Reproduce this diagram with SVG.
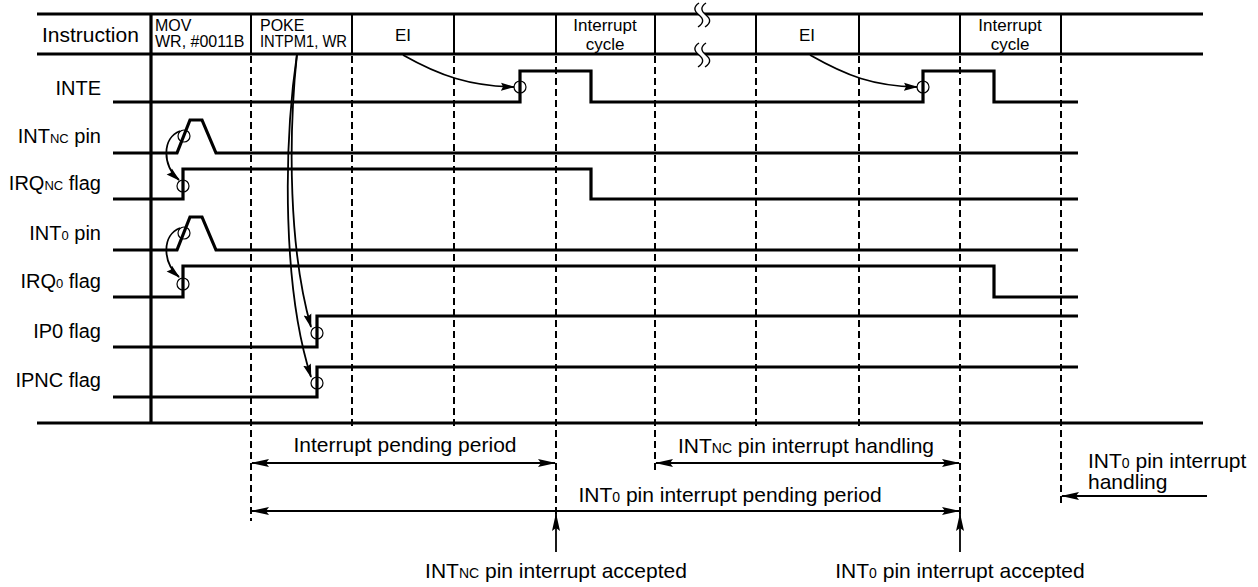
<svg xmlns="http://www.w3.org/2000/svg" width="1258" height="587" viewBox="0 0 1258 587">
<style>
text{font-family:"Liberation Sans",Arial,sans-serif;fill:#000}
.lbl{font-size:20px;text-anchor:end}
.bl{font-size:21px}
.hd{font-size:16px}
.hc{font-size:17px;text-anchor:middle}
.sig{fill:none;stroke:#000;stroke-width:3.2;stroke-linejoin:miter}
.thick{stroke:#000;stroke-width:3.2;fill:none}
.sep{stroke:#000;stroke-width:2;fill:none}
.dash{stroke:#000;stroke-width:2;stroke-dasharray:7,4;fill:none}
.arr{stroke:#000;stroke-width:1.8;fill:none}
.cir{fill:none;stroke:#000;stroke-width:1.2}
.sqf{fill:#fff;stroke:none}
.sq{fill:none;stroke:#000;stroke-width:1.4}
</style>
<defs>
<marker id="ah" markerUnits="userSpaceOnUse" viewBox="0 0 18 10" refX="17" refY="5" markerWidth="18" markerHeight="10" orient="auto-start-reverse">
<path d="M0,1 L18,5 L0,9 L3,5 z" fill="#000"/>
</marker>
<marker id="ahs" markerUnits="userSpaceOnUse" viewBox="0 0 14 10" refX="13" refY="5" markerWidth="14" markerHeight="10" orient="auto">
<path d="M0,1 L14,5 L0,9 L2,5 z" fill="#000"/>
</marker>
<path id="wave" d="M0,0 c-6,4 -5,8 0,12 c5,4 5,8 -1,12"/>
</defs>

<g id="frame">
<line class="thick" x1="37" y1="14" x2="1203" y2="14"/>
<line class="thick" x1="37" y1="54" x2="1203" y2="54"/>
<line class="thick" x1="37" y1="423" x2="1203" y2="423"/>
<line class="thick" x1="151" y1="14" x2="151" y2="423"/>
<g class="sep">
<line x1="251" y1="14" x2="251" y2="54"/>
<line x1="352" y1="14" x2="352" y2="54"/>
<line x1="454" y1="14" x2="454" y2="54"/>
<line x1="556" y1="14" x2="556" y2="54"/>
<line x1="655" y1="14" x2="655" y2="54"/>
<line x1="756" y1="14" x2="756" y2="54"/>
<line x1="859" y1="14" x2="859" y2="54"/>
<line x1="960" y1="14" x2="960" y2="54"/>
<line x1="1061" y1="14" x2="1061" y2="54"/>
</g>
<g class="dash">
<line x1="251" y1="56" x2="251" y2="521"/>
<line x1="352" y1="56" x2="352" y2="429"/>
<line x1="454" y1="56" x2="454" y2="429"/>
<line x1="556" y1="56" x2="556" y2="514"/>
<line x1="655" y1="56" x2="655" y2="474"/>
<line x1="756" y1="56" x2="756" y2="429"/>
<line x1="859" y1="56" x2="859" y2="429"/>
<line x1="960" y1="56" x2="960" y2="514"/>
<line x1="1061" y1="56" x2="1061" y2="504"/>
</g>
<g id="breaks">
<path class="sqf" d="M699,3 c-6,4 -5,8 0,12 c5,4 5,8 -1,12 h7 c6,-4 6,-8 1,-12 c-5,-4 -6,-8 0,-12 z"/>
<use class="sq" href="#wave" x="699" y="3"/>
<use class="sq" href="#wave" x="706" y="3"/>
<path class="sqf" d="M699,43 c-6,4 -5,8 0,12 c5,4 5,8 -1,12 h7 c6,-4 6,-8 1,-12 c-5,-4 -6,-8 0,-12 z"/>
<use class="sq" href="#wave" x="699" y="43"/>
<use class="sq" href="#wave" x="706" y="43"/>
</g>
</g>

<g id="header">
<text class="bl" x="42" y="42">Instruction</text>
<text class="hd" x="155" y="31">MOV</text>
<text class="hd" x="155" y="47">WR, #0011B</text>
<text class="hd" x="260" y="31">POKE</text>
<text class="hd" x="260" y="47" textLength="87" lengthAdjust="spacingAndGlyphs">INTPM1, WR</text>
<text class="hc" x="403" y="41">EI</text>
<text class="hc" x="605" y="31">Interrupt</text>
<text class="hc" x="605" y="50">cycle</text>
<text class="hc" x="807" y="41">EI</text>
<text class="hc" x="1010" y="31">Interrupt</text>
<text class="hc" x="1010" y="50">cycle</text>
</g>

<g id="sig-inte">
<text class="lbl" x="101" y="95">INTE</text>
<path class="sig" d="M113,102 H520 V71 H591 V102 H923 V71 H994 V102 H1078"/>
<circle class="cir" cx="520" cy="87" r="6"/>
<circle class="cir" cx="923" cy="87" r="6"/>
</g>
<g id="sig-intnc">
<text class="lbl" x="101" y="143">INT<tspan font-size="13">NC</tspan> pin</text>
<path class="sig" d="M113,153 H177 L190,120 H202 L216,153 H1078"/>
<circle class="cir" cx="184" cy="136" r="6"/>
</g>
<g id="sig-irqnc">
<text class="lbl" x="101" y="190">IRQ<tspan font-size="13">NC</tspan> flag</text>
<path class="sig" d="M113,199 H183 V169 H591 V199 H1078"/>
<circle class="cir" cx="183" cy="186" r="6"/>
</g>
<g id="sig-int0">
<text class="lbl" x="101" y="240">INT<tspan font-size="13">0</tspan> pin</text>
<path class="sig" d="M113,250 H177 L190,217 H202 L216,250 H1078"/>
<circle class="cir" cx="184" cy="233" r="6"/>
</g>
<g id="sig-irq0">
<text class="lbl" x="101" y="288">IRQ<tspan font-size="13">0</tspan> flag</text>
<path class="sig" d="M113,297 H183 V266 H994 V297 H1078"/>
<circle class="cir" cx="183" cy="284" r="6"/>
</g>
<g id="sig-ip0">
<text class="lbl" x="101" y="338">IP0 flag</text>
<path class="sig" d="M113,347 H317 V316 H1078"/>
<circle class="cir" cx="317" cy="333" r="6"/>
</g>
<g id="sig-ipnc">
<text class="lbl" x="101" y="387">IPNC flag</text>
<path class="sig" d="M113,397 H317 V367 H1078"/>
<circle class="cir" cx="317" cy="383" r="6"/>
</g>

<g id="connectors">
<path class="arr" marker-end="url(#ahs)" d="M180,131 C162,138 162,165 179,180"/>
<path class="arr" marker-end="url(#ahs)" d="M180,228 C162,235 162,262 179,277"/>
<path class="arr" marker-end="url(#ahs)" d="M403,55 C440,76 470,86 514,87"/>
<path class="arr" marker-end="url(#ahs)" d="M810,55 C847,76 873,86 917,87"/>
<path class="arr" marker-end="url(#ahs)" d="M297,54 C288,140 289,250 311,327"/>
<path class="arr" marker-end="url(#ahs)" d="M297,54 C283,150 283,290 311,377"/>
<line class="arr" marker-start="url(#ah)" marker-end="url(#ah)" x1="252" y1="463" x2="555" y2="463"/>
<line class="arr" marker-start="url(#ah)" marker-end="url(#ah)" x1="656" y1="463" x2="959" y2="463"/>
<line class="arr" marker-start="url(#ah)" marker-end="url(#ah)" x1="252" y1="511" x2="959" y2="511"/>
<line class="arr" marker-end="url(#ah)" x1="556" y1="552" x2="556" y2="514"/>
<line class="arr" marker-end="url(#ah)" x1="960" y1="552" x2="960" y2="514"/>
<line class="arr" marker-end="url(#ah)" x1="1207" y1="496" x2="1062" y2="496"/>
</g>

<g id="annotations">
<text class="bl" x="405" y="452" text-anchor="middle">Interrupt pending period</text>
<text class="bl" x="806" y="453" text-anchor="middle">INT<tspan font-size="14">NC</tspan> pin interrupt handling</text>
<text class="bl" x="730" y="502" text-anchor="middle">INT<tspan font-size="14">0</tspan> pin interrupt pending period</text>
<text class="bl" x="556" y="578" text-anchor="middle">INT<tspan font-size="14">NC</tspan> pin interrupt accepted</text>
<text class="bl" x="960" y="578" text-anchor="middle">INT<tspan font-size="14">0</tspan> pin interrupt accepted</text>
<text class="bl" x="1088" y="468">INT<tspan font-size="14">0</tspan> pin interrupt</text>
<text class="bl" x="1088" y="489">handling</text>
</g>
</svg>
